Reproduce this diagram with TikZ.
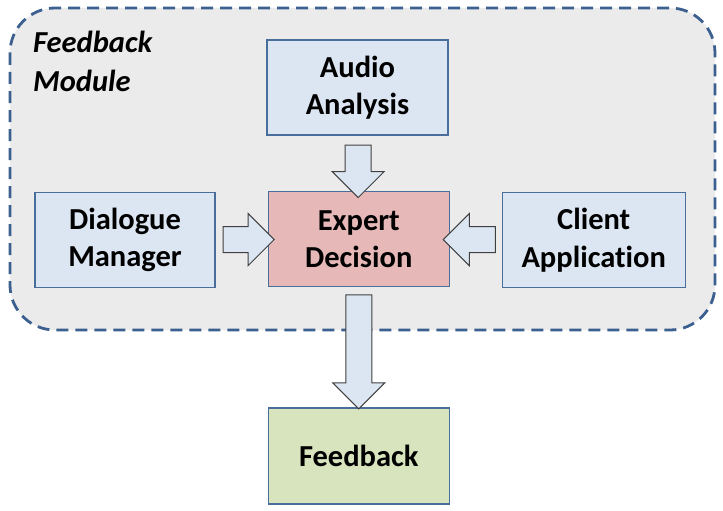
\documentclass[tikz,border=0pt]{standalone}
\usepackage{fontspec}
\setmainfont{Carlito}[Ligatures=NoCommon]
\usetikzlibrary{shapes.arrows,calc}

\definecolor{boxblue}{HTML}{DCE6F2}
\definecolor{boxline}{HTML}{4A6E9B}
\definecolor{boxred}{HTML}{E6B9B8}
\definecolor{boxgreen}{HTML}{D7E4BD}
\definecolor{modfill}{HTML}{EBEBEB}
\definecolor{modline}{HTML}{3B5F8F}

\tikzset{
  unit/.style={draw=boxline, line width=1.3pt, fill=boxblue, align=center,
    minimum width=181pt, minimum height=95pt, inner sep=0pt,
    font=\fontsize{30.5}{37.5}\selectfont\bfseries},
  blockarrow/.style={single arrow, draw=black!75, line width=1pt, fill=boxblue,
    text height=0pt, text depth=0pt, inner xsep=0pt, inner ysep=12.5pt,
    single arrow head extend=13pt, single arrow tip angle=90}
}

\begin{document}
\begin{tikzpicture}[x=1pt,y=-1pt]
	\useasboundingbox (0,0) rectangle (723,511);

	%The module frame
	\draw[modline, fill=modfill, line width=2.8pt, dash pattern=on 12pt off 7pt,
	      rounded corners=45pt] (10,8) rectangle (715,330);
	\node[anchor=base west, inner sep=0pt, align=left,
	      font=\fontsize{30.5}{38.5}\selectfont\bfseries\itshape] (modlabel) at (33,91.5) {Feedback\\Module};

	%The boxes
	\node[unit] (audio) at (357.5,87.5) {Audio\\Analysis};
	\node[unit, fill=boxred] (expert) at (358.8,239.2) {Expert\\Decision};
	\node[unit, minimum width=180pt] (dialogue) at (125,240) {Dialogue\\Manager};
	\node[unit, minimum width=183pt] (client) at (593.7,240) {Client\\Application};
	\node[unit, fill=boxgreen, minimum height=96pt] (feedback) at (358.8,456) {Feedback};

	%The block arrows
	\node[blockarrow, rotate=-90, minimum height=52.5pt] (aud2exp) at ($(audio.south)!0.5!(expert.north)+(0,1.5)$) {};
	\node[blockarrow, minimum height=51pt] (dia2exp) at ($(dialogue.east)!0.5!(expert.west)+(0.5,0)$) {};
	\node[blockarrow, rotate=180, minimum height=52pt] (cli2exp) at ($(client.west)!0.5!(expert.east)$) {};
	\node[blockarrow, rotate=-90, minimum height=114pt] (exp2fb) at ($(expert.south)+(0,58)$) {};

\end{tikzpicture}
\end{document}
